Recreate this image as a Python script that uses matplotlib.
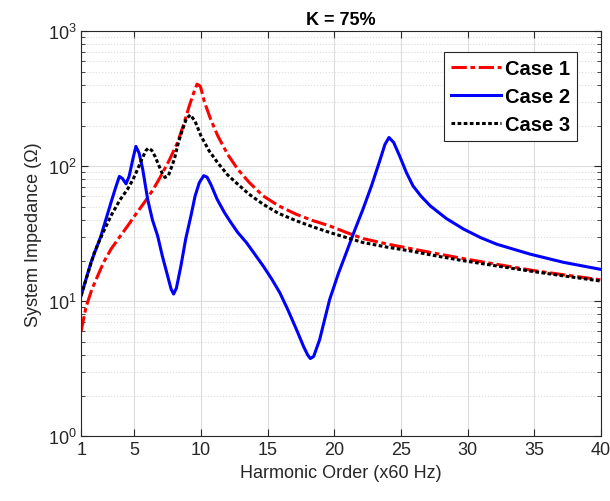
import numpy as np
import matplotlib.pyplot as plt
from matplotlib.ticker import LogLocator, NullFormatter

plt.rcParams['font.family'] = ['Liberation Sans', 'DejaVu Sans']

# harmonic order / impedance points
h1 = [1.0, 1.36, 1.8, 2.24, 2.7, 3.24, 3.9, 4.49, 5.1, 5.74, 6.4, 6.99, 7.6, 8.24, 8.7,
      9.12, 9.45, 9.7, 9.95, 10.25, 10.7, 11.25, 12.0, 12.75, 13.6, 14.65, 15.8, 17.15,
      18.4, 19.65, 20.9, 22.15, 23.9, 25.66, 27.8, 29.9, 32.4, 34.9, 37.4, 40.0]
z1 = [6.0, 9.0, 12.2, 15.4, 19.5, 24.3, 30.0, 36.1, 44.0, 53.8, 67.0, 84.7, 110.0, 150.0,
      205.0, 280.0, 350.0, 405.0, 390.0, 300.0, 225.0, 168.0, 122.0, 95.0, 76.0, 60.3, 51.0,
      44.0, 39.5, 36.1, 32.3, 29.1, 26.6, 24.6, 22.4, 20.5, 18.6, 16.9, 15.6, 14.4]

h2 = [1.0, 1.74, 2.49, 3.24, 3.6, 3.87, 4.1, 4.37, 4.6, 4.9, 5.11, 5.35, 5.62, 5.99, 6.35,
      6.74, 7.1, 7.49, 7.75, 7.94, 8.15, 8.49, 8.85, 9.24, 9.55, 9.87, 10.2, 10.45, 10.74,
      11.2, 11.75, 12.15, 12.75, 13.4, 14.0, 14.65, 15.3, 15.9, 16.5, 17.15, 17.7, 18.0,
      18.2, 18.45, 18.9, 19.3, 19.65, 20.3, 20.9, 21.5, 22.15, 22.8, 23.4, 23.8, 24.1, 24.45,
      24.9, 25.4, 25.9, 26.5, 27.2, 28.4, 29.7, 31.0, 32.2, 34.7, 37.2, 40.0]
z2 = [11.0, 19.4, 30.5, 53.8, 70.0, 84.0, 81.0, 74.0, 84.0, 115.0, 140.0, 125.0, 95.0, 57.0,
      40.0, 30.5, 21.5, 15.4, 12.3, 11.3, 12.5, 18.3, 29.0, 42.9, 60.0, 75.7, 85.0, 83.0,
      73.0, 57.0, 45.4, 39.4, 32.3, 27.2, 22.5, 18.3, 14.6, 11.6, 8.7, 6.2, 4.6, 4.0, 3.76,
      3.9, 5.2, 7.5, 10.3, 16.0, 22.9, 33.0, 48.0, 72.0, 109.0, 145.0, 163.0, 150.0, 119.0,
      90.0, 71.5, 60.0, 50.8, 41.0, 34.2, 29.5, 26.4, 22.3, 19.4, 17.2]

h3 = [1.0, 1.5, 1.99, 2.6, 3.24, 3.9, 4.49, 4.9, 5.24, 5.6, 5.85, 6.04, 6.3, 6.55, 6.8,
      7.05, 7.29, 7.55, 8.0, 8.3, 8.62, 8.9, 9.2, 9.55, 9.99, 10.6, 11.25, 12.0, 12.75, 13.6,
      14.65, 15.8, 17.15, 18.4, 19.65, 20.9, 22.15, 23.9, 25.66, 27.8, 29.9, 32.4, 34.9, 37.4,
      40.0]
z3 = [11.0, 16.0, 22.9, 31.5, 42.9, 56.0, 67.6, 80.0, 95.0, 115.0, 130.0, 136.0, 131.0,
      118.0, 103.0, 90.0, 82.5, 85.0, 113.0, 150.0, 188.0, 225.0, 240.0, 215.0, 168.0, 130.0,
      106.0, 86.0, 73.6, 62.0, 52.3, 44.8, 39.4, 35.5, 32.3, 29.6, 27.2, 25.2, 23.6, 21.5,
      19.8, 18.1, 16.6, 15.3, 14.1]

fig = plt.figure(figsize=(6.1, 5.02), dpi=100)
ax = fig.add_axes([0.133, 0.129, 0.852, 0.807])

l1, = ax.plot(h1, z1, color='red', linestyle=(0, (5, 1.2, 1.5, 1.2)), linewidth=2.2,
              label='Case 1')
l2, = ax.plot(h2, z2, color='blue', linestyle='-', linewidth=2.2, label='Case 2')
l3, = ax.plot(h3, z3, color='black', linestyle=(0, (1.2, 0.8)), linewidth=2.2,
              label='Case 3')

ax.set_yscale('log')
ax.set_xlim(1, 40)
ax.set_ylim(1, 1000)
ax.set_xticks([1, 5, 10, 15, 20, 25, 30, 35, 40])
ax.yaxis.set_minor_locator(LogLocator(base=10, subs=np.arange(2, 10)))
ax.yaxis.set_minor_formatter(NullFormatter())

ax.grid(True, which='major', color='#dcdcdc', linewidth=0.8, linestyle='-')
ax.grid(True, which='minor', axis='y', color='#dcdcdc', linewidth=0.8, linestyle=':')
ax.set_axisbelow(True)

ax.tick_params(which='both', direction='in', top=True, right=True, labelsize=13,
               colors='#262626')
ax.tick_params(which='major', length=5)
ax.tick_params(which='minor', length=3)
for s in ax.spines.values():
    s.set_color('#262626')

ax.set_xlabel('Harmonic Order (x60 Hz)', fontsize=13, color='#262626')
ax.set_ylabel('System Impedance (\u03a9)', fontsize=13, color='#262626')
ax.set_title('K = 75%', fontsize=13, fontweight='bold', pad=5)

leg = ax.legend(handles=[l1, l2, l3], loc='upper right', bbox_to_anchor=(0.955, 0.948),
                prop={'weight': 'bold', 'size': 14.5}, fancybox=False, edgecolor='#262626',
                framealpha=1, handlelength=2.5, borderpad=0.35, labelspacing=0.45,
                handletextpad=0.2, borderaxespad=0)
leg.get_frame().set_linewidth(0.8)

fig.savefig('out.png', dpi=100)
